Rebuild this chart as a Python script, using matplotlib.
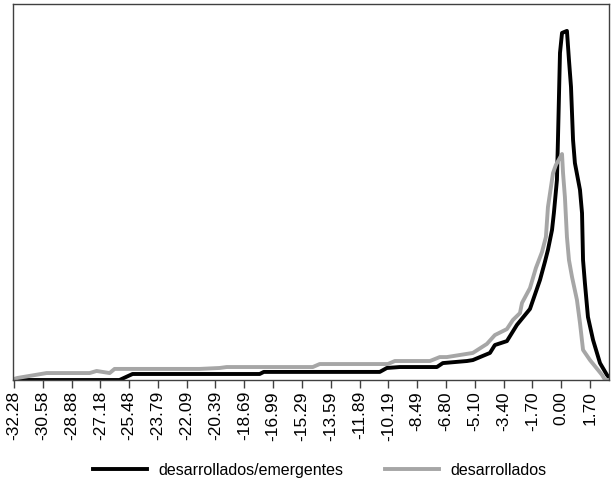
import matplotlib
matplotlib.use("Agg")
import matplotlib.pyplot as plt

plt.rcParams['font.family'] = ['Liberation Sans', 'DejaVu Sans']

# tick labels of the category axis
tick_labels = ['-32.28', '-30.58', '-28.88', '-27.18', '-25.48', '-23.79', '-22.09',
               '-20.39', '-18.69', '-16.99', '-15.29', '-13.59', '-11.89', '-10.19',
               '-8.49', '-6.80', '-5.10', '-3.40', '-1.70', '0.00', '1.70']

# desarrollados/emergentes (black)
x_emerg = [-32.30, -26.05, -25.28, -17.78, -17.54, -10.70, -10.28, -9.52, -7.33, -6.98,
           -5.56, -5.21, -4.20, -3.91, -3.20, -2.61, -1.84, -1.25, -0.96, -0.78,
           -0.54, -0.43, -0.25, -0.19, -0.07, 0.05, 0.34, 0.46, 0.58, 0.70,
           0.81, 1.11, 1.23, 1.29, 1.40, 1.58, 1.88, 2.29, 2.70, 2.80]
y_emerg = [0.00, 0.00, 0.32, 0.32, 0.43, 0.43, 0.64, 0.69, 0.69, 0.90,
           1.01, 1.06, 1.44, 1.86, 2.07, 2.93, 3.78, 5.32, 6.28, 6.92,
           7.98, 8.88, 10.64, 12.77, 17.40, 18.46, 18.57, 17.02, 15.59, 12.77,
           11.54, 10.11, 8.88, 6.38, 5.16, 3.35, 2.13, 0.90, 0.27, 0.16]

# desarrollados (grey)
x_desa = [-32.30, -32.06, -30.35, -27.81, -27.40, -26.63, -26.34, -21.32, -20.14, -19.73,
          -14.65, -14.24, -10.22, -9.81, -7.74, -7.16, -6.74, -5.21, -4.38, -3.91,
          -3.20, -2.85, -2.43, -2.31, -1.84, -1.49, -1.13, -0.90, -0.78, -0.48,
          -0.31, 0.05, 0.11, 0.22, 0.34, 0.46, 0.64, 0.93, 1.11, 1.29,
          1.70, 2.41, 2.59, 2.82]
y_desa = [0.05, 0.11, 0.37, 0.37, 0.48, 0.37, 0.59, 0.59, 0.64, 0.69,
          0.69, 0.85, 0.85, 1.01, 1.01, 1.22, 1.22, 1.44, 1.92, 2.39,
          2.71, 3.19, 3.56, 4.10, 4.89, 5.96, 6.81, 7.61, 9.20, 11.01,
          11.44, 12.02, 11.01, 9.74, 7.61, 6.38, 5.48, 4.26, 3.03, 1.60,
          1.06, 0.27, 0.00, 0.00]

fig = plt.figure(figsize=(6.11, 4.87), dpi=100)
ax = fig.add_axes([0.0213, 0.2197, 0.9754, 0.7721])

ax.plot(x_emerg, y_emerg, color='black', lw=2.8, label='desarrollados/emergentes')
ax.plot(x_desa, y_desa, color='#a6a6a6', lw=2.8, label='desarrollados')

ax.set_xlim(-32.33, 2.82)
ax.set_ylim(0, 20)
ax.set_yticks([])
ax.set_xticks([float(t) for t in tick_labels])
ax.set_xticklabels(tick_labels, rotation=90, fontsize=12.5)
ax.tick_params(axis='x', length=6, width=1, color='#404040', pad=2)
for s in ax.spines.values():
    s.set_color('#404040')
    s.set_linewidth(1)

fig.legend(loc='center', bbox_to_anchor=(0.523, 0.034), ncol=2, frameon=False,
           fontsize=11.5, handlelength=3.4, handletextpad=0.7, columnspacing=2.6)

fig.savefig('out.png', dpi=100)
